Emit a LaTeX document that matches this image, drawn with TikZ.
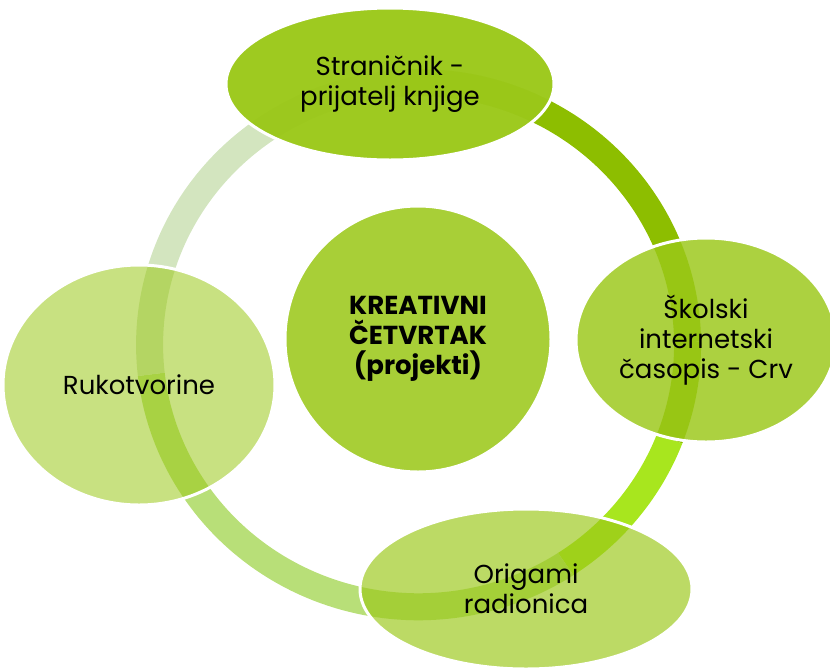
\documentclass[tikz,border=0pt]{standalone}
\usepackage{fontspec}
\setmainfont{Poppins}
\usetikzlibrary{shapes.geometric}
\definecolor{base}{RGB}{155,200,25}
\definecolor{segA}{RGB}{141,190,0}
\definecolor{segB}{RGB}{168,230,30}
\definecolor{segC}{RGB}{184,223,120}
\definecolor{segD}{RGB}{211,229,191}
\begin{document}
\begin{tikzpicture}[x=1pt,y=-1pt,
  band/.style={line width=27pt, line cap=butt},
  blob/.style={ellipse, draw=white, line width=3pt, fill=base, text opacity=1,
    inner sep=0pt, align=center, text=black,
    font=\fontsize{26}{30}\selectfont},
]
\useasboundingbox (0,0) rectangle (830,670);
% ring centre and seam directions
\coordinate (c) at (411,342);
\coordinate (f1) at (389,-182);
\coordinate (f2) at (935,538);
\coordinate (f3) at (719,784);
\coordinate (f4) at (-119,408);
\def\ringpath{plot[domain=0:360, samples=145, smooth cycle, variable=\t]
  ({411+269*cos(\t)*(1+0.03*cos(\t-20))}, {342+262*sin(\t)*(1+0.03*cos(\t-20))})}
\begin{scope}
  \clip (c) -- (f1) -- (1000,-182) -- (f2) -- cycle;
  \draw[band, segA] \ringpath;
\end{scope}
\begin{scope}
  \clip (c) -- (f2) -- (935,784) -- (f3) -- cycle;
  \draw[band, segB] \ringpath;
\end{scope}
\begin{scope}
  \clip (c) -- (f3) -- (-119,784) -- (f4) -- cycle;
  \draw[band, segC] \ringpath;
\end{scope}
\begin{scope}
  \clip (c) -- (f4) -- (-119,-182) -- (f1) -- cycle;
  \draw[band, segD] \ringpath;
\end{scope}
% nodes
\node[blob, fill opacity=0.87, minimum width=266pt, minimum height=266pt]
  (centre) at (418,339) {\bfseries KREATIVNI\\\bfseries ČETVRTAK\\\bfseries (projekti)};
\node[blob, fill opacity=0.97, minimum width=328pt, minimum height=152pt]
  (top) at (390,84) {Straničnik -\\prijatelj knjige};
\node[blob, fill opacity=0.83, minimum width=260pt, minimum height=204pt]
  (right) at (706,340) {Školski\\internetski\\časopis - Crv};
\node[blob, fill opacity=0.67, minimum width=332pt, minimum height=160pt]
  (bottom) at (526,589) {Origami\\radionica};
\node[blob, fill opacity=0.55, minimum width=272pt, minimum height=240pt]
  (left) at (139,385) {Rukotvorine};
\end{tikzpicture}
\end{document}
